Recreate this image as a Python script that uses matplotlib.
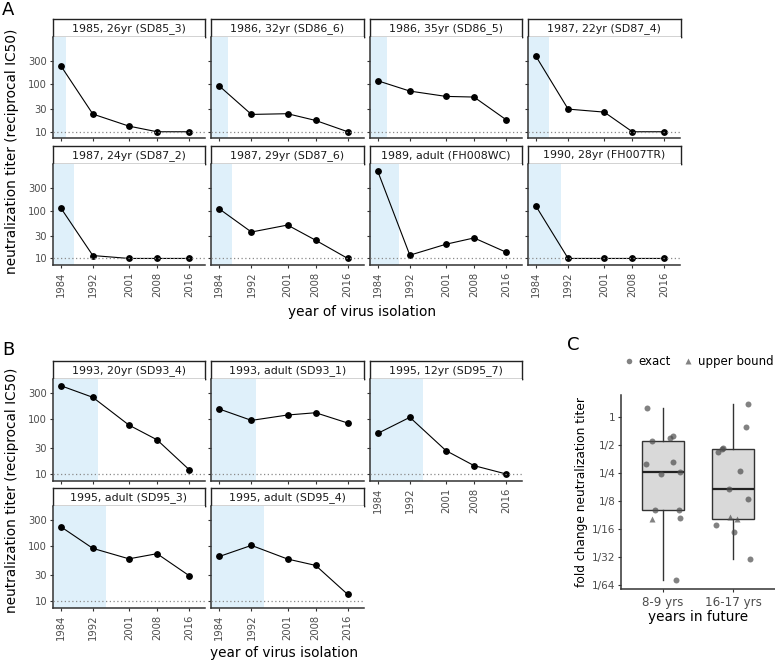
import numpy as np
import matplotlib.pyplot as plt
from matplotlib.lines import Line2D
from matplotlib.ticker import NullLocator

years = [1984, 1992, 2001, 2008, 2016]

labels_A = ['1985, 26yr (SD85_3)', '1986, 32yr (SD86_6)', '1986, 35yr (SD86_5)',
            '1987, 22yr (SD87_4)', '1987, 24yr (SD87_2)', '1987, 29yr (SD87_6)',
            '1989, adult (FH008WC)', '1990, 28yr (FH007TR)']
serum_year_A = [1985, 1986, 1986, 1987, 1987, 1987, 1989, 1990]
titers_A = [
    [240, 23.4, 13.1, 10, 10],
    [90, 23.0, 23.8, 17.2, 10],
    [116, 70.6, 54.7, 53, 17.8],
    [374, 29.7, 25.7, 10, 10],
    [114, 11.5, 10, 10, 10],
    [108, 35.6, 49.8, 24, 10],
    [664, 11.7, 19.8, 26.8, 13.5],
    [123, 10, 10, 10, 10],
]

labels_B = ['1993, 20yr (SD93_4)', '1993, adult (SD93_1)', '1995, 12yr (SD95_7)',
            '1995, adult (SD95_3)', '1995, adult (SD95_4)']
serum_year_B = [1993, 1993, 1995, 1995, 1995]
titers_B = [
    [408, 250, 78, 42, 12],
    [153, 95, 119, 131, 85],
    [55, 108, 26.7, 14.2, 10],
    [224, 90, 58, 72, 28.6],
    [64, 102, 57.5, 44, 13],
]

groups_C = ['8-9 yrs', '16-17 yrs']
log2_fold_C = [
    [0.32, -0.85, -0.73, -0.66, -1.68, -1.62, -2.03, -1.97, -3.32, -3.32, -3.64, -3.63, -5.85],
    [0.48, -0.35, -1.24, -1.15, -1.09, -1.91, -2.57, -2.94, -3.56, -3.66, -3.85, -4.13, -5.10],
]
bound_C = [
    ['exact'] * 10 + ['upper'] + ['exact'] * 2,
    ['exact'] * 8 + ['upper', 'upper'] + ['exact'] * 3,
]
# horizontal jitter as seen in the picture (category units)
jitter_C = [
    [-0.23, -0.16, 0.10, 0.14, -0.24, 0.14, -0.03, 0.24, -0.12, 0.23, -0.16, 0.24, 0.18],
    [0.22, 0.18, -0.21, -0.16, -0.14, 0.10, -0.06, 0.22, -0.04, 0.05, -0.25, 0.02, 0.24],
]

W, H = 775, 661
fig = plt.figure(figsize=(W / 100, H / 100), dpi=100)

TXT = '#4d4d4d'
SP = '#333333'
TITLE = 9.8


def add_px(l, t, r, b):
    return fig.add_axes([l / W, 1 - b / H, (r - l) / W, (b - t) / H])


def facet(l, t, r, b, label, vals, syear, ylim, show_x, show_y):
    strip = add_px(l, t, r, t + 18)
    strip.set_xticks([])
    strip.set_yticks([])
    for s in strip.spines.values():
        s.set_linewidth(1.0)
        s.set_color('#222222')
    strip.text(0.5, 0.47, label, ha='center', va='center', fontsize=7.9, color='#1a1a1a')

    ax = add_px(l, t + 18, r, b)
    ax.set_yscale('log')
    ax.set_xlim(1982, 2020)
    ax.set_ylim(*ylim)
    ax.axvspan(1982, syear + 0.25, color='#dff0fa', lw=0, zorder=0)
    ax.plot(years, vals, color='black', lw=0.8, marker='o', ms=3.9, zorder=2)
    ax.axhline(10, color='#8a8a8a', ls=(0, (1, 2)), lw=0.9, zorder=3)
    for s in ['top', 'right']:
        ax.spines[s].set_visible(False)
    for s in ['left', 'bottom']:
        ax.spines[s].set_color(SP)
        ax.spines[s].set_linewidth(1.1)
    ax.yaxis.set_minor_locator(NullLocator())
    ax.set_yticks([10, 30, 100, 300])
    ax.set_xticks(years)
    ax.tick_params(colors=SP, labelcolor=TXT, labelsize=7.2, length=2.5, width=0.8)
    ax.tick_params(axis='y', pad=1.5)
    ax.tick_params(axis='x', pad=2.5)
    if show_y:
        ax.set_yticklabels(['10', '30', '100', '300'])
    else:
        ax.set_yticklabels([])
    if show_x:
        ax.set_xticklabels([str(y) for y in years], rotation=90)
    else:
        ax.set_xticklabels([])
    return ax


# panel A
cols = [52.7, 211.3, 369.7, 528]
rows_A = [(19, 138.3), (145.7, 265)]
for i in range(8):
    r, c = divmod(i, 4)
    l = cols[c]
    t, b = rows_A[r]
    facet(l, t, l + 152.5, b, labels_A[i], titers_A[i], serum_year_A[i],
          (7.3, 950), r == 1, c == 0)

fig.text(362 / W, 1 - 312 / H, 'year of virus isolation', ha='center', va='center', fontsize=TITLE)
fig.text(12 / W, 1 - 151 / H, 'neutralization titer (reciprocal IC50)', rotation=90,
         ha='center', va='center', fontsize=TITLE)
fig.text(2 / W, 1 - 10 / H, 'A', ha='left', va='center', fontsize=13)

# panel B
rows_B = [(361, 481), (487.7, 607.7)]
for i in range(5):
    r, c = divmod(i, 3)
    l = cols[c]
    t, b = rows_B[r]
    facet(l, t, l + 152.5, b, labels_B[i], titers_B[i], serum_year_B[i],
          (7.45, 540), r == 1 or c == 2, c == 0)

fig.text(284 / W, 1 - 653 / H, 'year of virus isolation', ha='center', va='center', fontsize=TITLE)
fig.text(12 / W, 1 - 490 / H, 'neutralization titer (reciprocal IC50)', rotation=90,
         ha='center', va='center', fontsize=TITLE)
fig.text(2 / W, 1 - 350 / H, 'B', ha='left', va='center', fontsize=13)

# panel C
axc = add_px(621, 395, 775, 589.3)
bp = axc.boxplot(log2_fold_C, positions=[1, 2], widths=0.6, whis=1.5, patch_artist=True,
                 showfliers=False, showcaps=False, zorder=1)
for box in bp['boxes']:
    box.set_facecolor('#d9d9d9')
    box.set_edgecolor('#333333')
    box.set_linewidth(1.0)
for w in bp['whiskers']:
    w.set_color('#333333')
    w.set_linewidth(1.0)
for m in bp['medians']:
    m.set_color('#222222')
    m.set_linewidth(1.6)

for g in range(2):
    for v, s, j in zip(log2_fold_C[g], bound_C[g], jitter_C[g]):
        axc.plot(g + 1 + j, v, marker='o' if s == 'exact' else '^', ms=4.3,
                 color='#4d4d4d', alpha=0.7, mec='none', zorder=3)

axc.set_xlim(0.4, 2.6)
axc.set_ylim(-6.17, 0.80)
axc.set_yticks(range(-6, 1))
axc.set_yticklabels(['1/64', '1/32', '1/16', '1/8', '1/4', '1/2', '1'])
axc.set_xticks([1, 2])
axc.set_xticklabels(groups_C)
for s in ['top', 'right']:
    axc.spines[s].set_visible(False)
for s in ['left', 'bottom']:
    axc.spines[s].set_color(SP)
    axc.spines[s].set_linewidth(1.1)
axc.tick_params(colors=SP, labelcolor=TXT, labelsize=7.6, length=2.5, width=0.8)
axc.tick_params(axis='y', pad=1.5)
axc.tick_params(axis='x', labelsize=8.6, pad=2)
axc.set_xlabel('years in future', fontsize=TITLE, labelpad=1)
axc.set_ylabel('fold change neutralization titer', fontsize=8.8, labelpad=3)

handles = [Line2D([], [], ls='none', marker='o', ms=4, color='#4d4d4d', alpha=0.7, mec='none'),
           Line2D([], [], ls='none', marker='^', ms=4, color='#4d4d4d', alpha=0.7, mec='none')]
fig.legend(handles, ['exact', 'upper bound'], loc='center', bbox_to_anchor=(698 / W, 1 - 361.7 / H),
           ncol=2, frameon=False, fontsize=8.5, handletextpad=0.3, columnspacing=1.0,
           handlelength=1.0)
fig.text(567 / W, 1 - 345 / H, 'C', ha='left', va='center', fontsize=13)

fig.savefig('out.png', dpi=100)
